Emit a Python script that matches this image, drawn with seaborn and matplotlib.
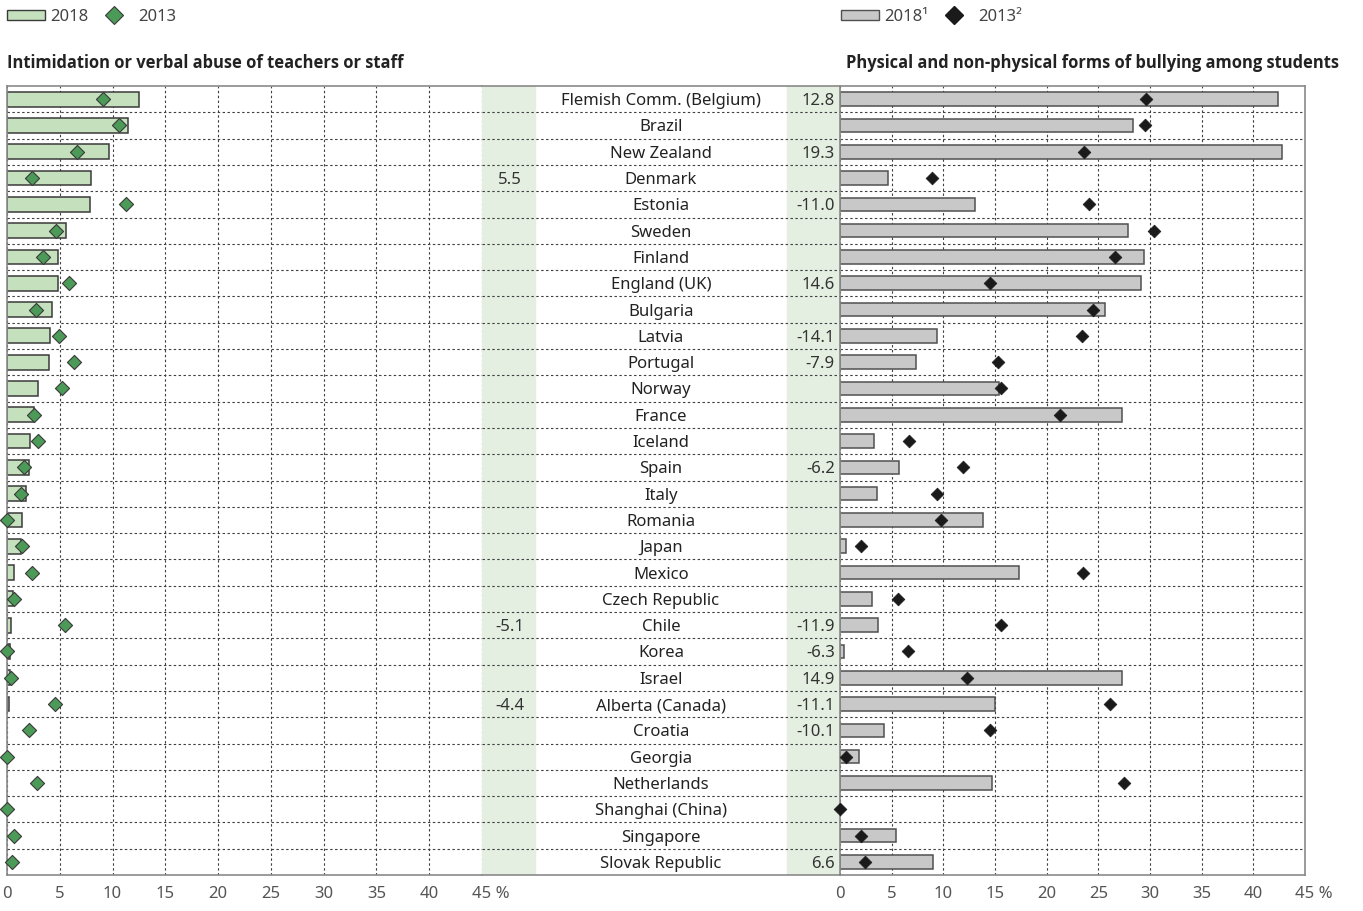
import numpy as np
import pandas as pd
import seaborn as sns
import matplotlib.pyplot as plt
from matplotlib.patches import Patch
from matplotlib.lines import Line2D
from matplotlib.transforms import ScaledTranslation

# =============================
#  Données
# =============================
countries = ["Flemish Comm. (Belgium)", "Brazil", "New Zealand", "Denmark", "Estonia",
             "Sweden", "Finland", "England (UK)", "Bulgaria", "Latvia", "Portugal",
             "Norway", "France", "Iceland", "Spain", "Italy", "Romania", "Japan",
             "Mexico", "Czech Republic", "Chile", "Korea", "Israel", "Alberta (Canada)",
             "Croatia", "Georgia", "Netherlands", "Shanghai (China)", "Singapore",
             "Slovak Republic"]

teachers_2018 = [12.5, 11.5, 9.7, 8.0, 7.9, 5.6, 4.8, 4.8, 4.3, 4.1, 4.0,
                 2.9, 2.6, 2.2, 2.1, 1.8, 1.45, 1.3, 0.7, 0.6, 0.35, 0.25, 0.3, 0.2,
                 np.nan, np.nan, np.nan, np.nan, np.nan, np.nan]
teachers_2013 = [9.1, 10.6, 6.6, 2.4, 11.3, 4.6, 3.4, 5.9, 2.7, 4.9, 6.3,
                 5.2, 2.6, 2.9, 1.6, 1.3, 0.0, 1.4, 2.4, 0.7, 5.5, 0.0, 0.4, 4.5,
                 2.1, 0.0, 2.8, 0.0, 0.7, 0.5]
teachers_diff = ["", "", "", "5.5", "", "", "", "", "", "", "",
                 "", "", "", "", "", "", "", "", "", "-5.1", "", "", "-4.4",
                 "", "", "", "", "", ""]

bullying_2018 = [42.4, 28.4, 42.8, 4.6, 13.1, 27.9, 29.4, 29.1, 25.6, 9.4, 7.4,
                 15.4, 27.3, 3.3, 5.7, 3.6, 13.8, 0.55, 17.3, 3.1, 3.7, 0.36, 27.3, 15.0,
                 4.3, 1.8, 14.7, np.nan, 5.4, 9.0]
bullying_2013 = [29.6, 29.5, 23.6, 8.9, 24.1, 30.4, 26.6, 14.5, 24.5, 23.4, 15.3,
                 15.6, 21.3, 6.7, 11.9, 9.4, 9.8, 2.0, 23.5, 5.6, 15.6, 6.6, 12.3, 26.1,
                 14.5, 0.6, 27.5, 0.0, 2.0, 2.4]
bullying_diff = ["12.8", "", "19.3", "", "-11.0", "", "", "14.6", "", "-14.1", "-7.9",
                 "", "", "", "-6.2", "", "", "", "", "", "-11.9", "-6.3", "14.9", "-11.1",
                 "-10.1", "", "", "", "", "6.6"]

ticks = [0, 5, 10, 15, 20, 25, 30, 35, 40, 45]
tick_labels = ["0", "5", "10", "15", "20", "25", "30", "35", "40", "45 %"]

df = pd.DataFrame({
    "country": countries,
    "teach18": teachers_2018,
    "teach13": teachers_2013,
    "bull18": bullying_2018,
    "bull13": bullying_2013,
})

# =============================
#  Style
# =============================
sns.set_theme(style="white")
plt.rcParams["font.family"] = ["Noto Sans", "DejaVu Sans"]

green_bar = "#c5e0bd"
green_dot = "#4c9a58"
grey_bar = "#c8c8c8"
black_dot = "#1a1a1a"
band = "#e4efe1"
edge = "#3a3a3a"
spine_col = "#8a8a8a"
grid_kw = dict(color="#404040", linestyle=(0, (2.2, 2.2)), linewidth=0.8)

W, H = 1363, 911
fig = plt.figure(figsize=(W / 100, H / 100), dpi=100)


def px_axes(x0, x1, y0=86, y1=875):
    return fig.add_axes([x0 / W, 1 - y1 / H, (x1 - x0) / W, (y1 - y0) / H])


ax_l = px_axes(7, 482)
ax_m = px_axes(482, 840)
ax_r = px_axes(840, 1305)

n = len(countries)
bounds = np.arange(0.5, n - 0.5, 1)

# =============================
#  Panneau gauche
# =============================
sns.barplot(data=df, x="teach18", y="country", order=countries, orient="h",
            color=green_bar, saturation=1, edgecolor=edge, linewidth=1.1,
            width=0.56, errorbar=None, ax=ax_l)
sns.stripplot(data=df, x="teach13", y="country", order=countries, orient="h",
              jitter=False, marker="D", size=7.2, color=green_dot,
              edgecolor=edge, linewidth=0.8, ax=ax_l, zorder=4)

# =============================
#  Panneau droit
# =============================
sns.barplot(data=df, x="bull18", y="country", order=countries, orient="h",
            color=grey_bar, saturation=1, edgecolor="#505050", linewidth=1.1,
            width=0.52, errorbar=None, ax=ax_r)
sns.stripplot(data=df, x="bull13", y="country", order=countries, orient="h",
              jitter=False, marker="D", size=6.5, color=black_dot,
              edgecolor=black_dot, linewidth=0.5, ax=ax_r, zorder=4)

for ax in (ax_l, ax_r):
    ax.set_xlim(0, 45)
    ax.set_ylim(n - 0.5, -0.5)
    ax.set_xticks(ticks)
    ax.set_xticklabels(tick_labels)
    ax.set_yticks([])
    ax.set_yticks(bounds, minor=True)
    ax.set_xlabel("")
    ax.set_ylabel("")
    ax.set_axisbelow(True)
    ax.xaxis.grid(True, **grid_kw)
    ax.yaxis.grid(True, which="minor", **grid_kw)
    ax.tick_params(axis="y", which="both", length=0)
    ax.tick_params(axis="x", length=0, pad=8, labelsize=12, labelcolor="#555555")
    for coll in ax.collections:
        coll.set_clip_on(False)
    for s in ax.spines.values():
        s.set_color(spine_col)
        s.set_linewidth(1.2)
    # "45 %" : le nombre reste centré sur la graduation
    last = ax.get_xticklabels()[-1]
    last.set_horizontalalignment("left")
    last.set_transform(last.get_transform() + ScaledTranslation(-10 / 100, 0, fig.dpi_scale_trans))

ax_l.spines["right"].set_visible(False)

# =============================
#  Colonne centrale
# =============================
ax_m.set_xlim(0, 1)
ax_m.set_ylim(n - 0.5, -0.5)
ax_m.axvspan(0, 0.148, color=band, zorder=0)
ax_m.axvspan(0.852, 1, color=band, zorder=0)
ax_m.set_xticks([])
ax_m.set_yticks([])
ax_m.set_yticks(bounds, minor=True)
ax_m.yaxis.grid(True, which="minor", **grid_kw)
ax_m.tick_params(axis="y", which="both", length=0)
ax_m.set_axisbelow(False)
for side in ("left", "right"):
    ax_m.spines[side].set_visible(False)
for side in ("top", "bottom"):
    ax_m.spines[side].set_color(spine_col)
    ax_m.spines[side].set_linewidth(1.2)

for i, name in enumerate(countries):
    ax_m.text(0.5, i, name, ha="center", va="center_baseline", fontsize=12, color="#222222")
    if teachers_diff[i]:
        ax_m.text(0.078, i, teachers_diff[i], ha="center", va="center_baseline", fontsize=12, color="#333333")
    if bullying_diff[i]:
        ax_m.text(0.986, i, bullying_diff[i], ha="right", va="center_baseline", fontsize=12, color="#333333")

# =============================
#  Titres et légendes
# =============================
title_font = ["Open Sans", "Noto Sans", "DejaVu Sans"]
fig.text(7 / W, 1 - 63 / H, "Intimidation or verbal abuse of teachers or staff",
         ha="left", va="center", fontsize=11.9, fontweight="bold", color="#222222",
         family=title_font)
fig.text(1339 / W, 1 - 63 / H, "Physical and non-physical forms of bullying among students",
         ha="right", va="center", fontsize=11.9, fontweight="bold", color="#222222",
         family=title_font)

leg_kw = dict(ncol=2, frameon=False, fontsize=12, handlelength=2.3, handleheight=0.6,
              handletextpad=0.3, columnspacing=0.4, borderpad=0, borderaxespad=0,
              loc="center left", labelcolor="#444444")
fig.legend(handles=[Patch(facecolor=green_bar, edgecolor=edge, linewidth=1),
                    Line2D([], [], marker="D", linestyle="none", markersize=9.5,
                           markerfacecolor=green_dot, markeredgecolor=edge, markeredgewidth=0.8)],
           labels=["2018", "2013"], bbox_to_anchor=(7 / W, 1 - 17 / H), **leg_kw)
fig.legend(handles=[Patch(facecolor=grey_bar, edgecolor="#505050", linewidth=1),
                    Line2D([], [], marker="D", linestyle="none", markersize=9.5,
                           markerfacecolor=black_dot, markeredgecolor=black_dot)],
           labels=["2018¹", "2013²"], bbox_to_anchor=(841 / W, 1 - 17 / H), **leg_kw)

fig.savefig("out.png", dpi=100)
plt.close(fig)
